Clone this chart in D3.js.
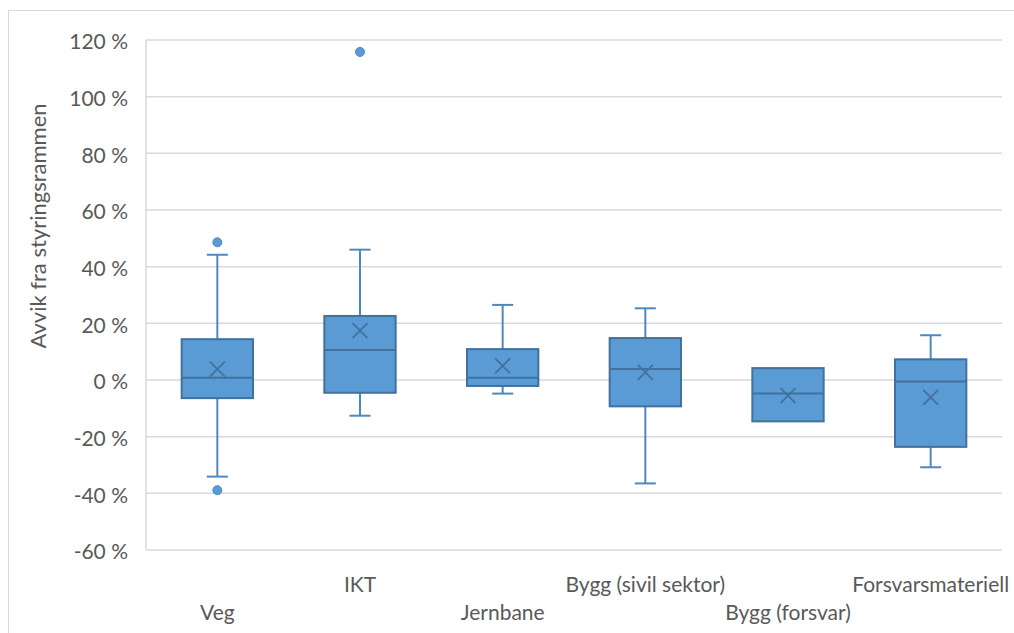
<!DOCTYPE html>
<html><head><meta charset="utf-8">
<script src="https://cdn.jsdelivr.net/npm/d3@7"></script>
<style>body{margin:0;background:#fff}svg{display:block}text{font-family:Lato,"Open Sans",sans-serif}</style>
</head><body><svg id="c" width="1014" height="633"></svg>
<script>
const categories = ["Veg","IKT","Jernbane","Bygg (sivil sektor)","Bygg (forsvar)","Forsvarsmateriell"];
const whiskerLow  = [-34.1, -12.6, -4.8, -36.5, -14.6, -30.8];
const q1          = [-6.4, -4.5, -2.1, -9.3, -14.6, -23.6];
const median      = [0.8, 10.6, 0.8, 3.9, -4.8, -0.5];
const q3          = [14.4, 22.6, 10.9, 14.8, 4.2, 7.3];
const whiskerHigh = [44.2, 46.0, 26.5, 25.3, 4.2, 15.8];
const mean        = [3.8, 17.4, 5.0, 2.7, -5.5, -6.1];
const outliers    = [[48.6, -38.9], [115.8], [], [], [], []];
const yTicks      = [-60,-40,-20,0,20,40,60,80,100,120];
const yTitle = "Avvik fra styringsrammen";

const svg = d3.select("#c");
svg.append("rect").attr("x",8.5).attr("y",10.5).attr("width",1010).attr("height",630)
  .attr("fill","none").attr("stroke","#d9d9d9");

const x = d3.scaleBand().domain(categories).range([146,1002]).padding(0);
const y = d3.scaleLinear().domain([-60,120]).range([550,40]);

// gridlines
svg.append("g").selectAll("line").data(yTicks).join("line")
  .attr("x1",146).attr("x2",1002).attr("y1",d=>y(d)).attr("y2",d=>y(d))
  .attr("stroke","#d9d9d9").attr("stroke-width",1.5);
svg.append("line").attr("x1",146).attr("x2",146).attr("y1",y(120)).attr("y2",y(-60))
  .attr("stroke","#d9d9d9").attr("stroke-width",1.5);

const ax = svg.append("g").attr("transform","translate(128,2)")
  .call(d3.axisLeft(y).tickValues(yTicks).tickSize(0).tickPadding(0).tickFormat(d=>d+" %"));
ax.select(".domain").remove();
ax.selectAll("text").attr("font-size",21).attr("fill","#595959").attr("font-family","Lato,'Open Sans',sans-serif");

svg.append("text").attr("transform","translate(46,226) rotate(-90)").attr("text-anchor","middle")
  .attr("font-size",22).attr("fill","#595959").text(yTitle);

const data = categories.map((c,i)=>({c,i}));
const bw = x.bandwidth()*0.5, cap = 21;
const cx = d=>x(d.c)+x.bandwidth()/2;
const wcol = "#4f88c0", bcol = "#41719c", fcol = "#5b9bd5";

const g = svg.append("g").selectAll("g").data(data).join("g");
// whiskers
g.append("line").attr("x1",cx).attr("x2",cx).attr("y1",d=>y(whiskerHigh[d.i])).attr("y2",d=>y(q3[d.i])).attr("stroke",wcol).attr("stroke-width",2);
g.append("line").attr("x1",cx).attr("x2",cx).attr("y1",d=>y(whiskerLow[d.i])).attr("y2",d=>y(q1[d.i])).attr("stroke",wcol).attr("stroke-width",2);
g.filter(d=>whiskerHigh[d.i]>q3[d.i]).append("line").attr("x1",d=>cx(d)-cap/2).attr("x2",d=>cx(d)+cap/2)
  .attr("y1",d=>y(whiskerHigh[d.i])).attr("y2",d=>y(whiskerHigh[d.i])).attr("stroke",wcol).attr("stroke-width",2);
g.filter(d=>whiskerLow[d.i]<q1[d.i]).append("line").attr("x1",d=>cx(d)-cap/2).attr("x2",d=>cx(d)+cap/2)
  .attr("y1",d=>y(whiskerLow[d.i])).attr("y2",d=>y(whiskerLow[d.i])).attr("stroke",wcol).attr("stroke-width",2);
// box
g.append("rect").attr("x",d=>cx(d)-bw/2).attr("width",bw)
  .attr("y",d=>y(q3[d.i])).attr("height",d=>y(q1[d.i])-y(q3[d.i]))
  .attr("fill",fcol).attr("stroke",bcol).attr("stroke-width",2);
g.append("line").attr("x1",d=>cx(d)-bw/2).attr("x2",d=>cx(d)+bw/2)
  .attr("y1",d=>y(median[d.i])).attr("y2",d=>y(median[d.i])).attr("stroke",bcol).attr("stroke-width",2);
// mean X
const m = 7.5;
g.append("path").attr("d",d=>{const X=cx(d),Y=y(mean[d.i]);return `M${X-m},${Y-m}L${X+m},${Y+m}M${X-m},${Y+m}L${X+m},${Y-m}`;})
  .attr("stroke",bcol).attr("stroke-width",1.8).attr("fill","none");
// outliers
g.selectAll("circle").data(d=>outliers[d.i].map(v=>({v,d}))).join("circle")
  .attr("cx",o=>cx(o.d)).attr("cy",o=>y(o.v)).attr("r",4.5)
  .attr("fill",fcol).attr("stroke",wcol).attr("stroke-width",1);

// category labels (staggered)
svg.append("g").selectAll("text").data(data).join("text")
  .attr("x",d=>cx(d)).attr("y",d=>d.i%2===0?620:592).attr("text-anchor","middle")
  .attr("font-size",21).attr("fill","#595959").text(d=>d.c);
</script></body></html>
